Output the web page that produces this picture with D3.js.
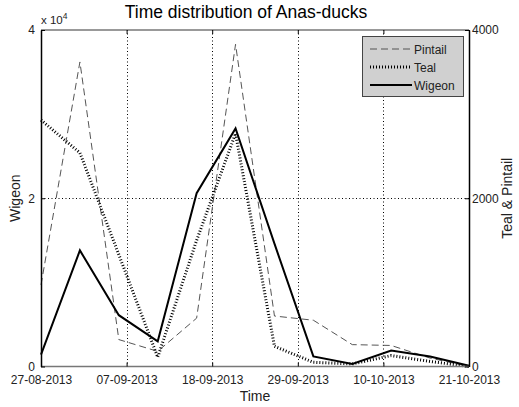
<!DOCTYPE html>
<html>
<head>
<meta charset="utf-8">
<script src="https://cdn.jsdelivr.net/npm/d3@7"></script>
<style>
  html, body { margin: 0; padding: 0; background: #fff; }
  svg { display: block; font-family: "Liberation Sans", Arial, sans-serif; }
</style>
</head>
<body>
<svg id="chart" width="519" height="407"></svg>
<script>
// Survey dates (every 5 days)
const dates = ["2013-08-27", "2013-09-01", "2013-09-06", "2013-09-11", "2013-09-16", "2013-09-21",
               "2013-09-26", "2013-10-01", "2013-10-06", "2013-10-11", "2013-10-16", "2013-10-21"];
// Counts per species
const wigeon  = [1400, 13800, 6100, 3000, 20600, 28300, 14600, 1200, 300, 1900, 1200, 100];
const teal    = [2930, 2540, 1330, 110, 1500, 2770, 240, 50, 30, 130, 60, 0];
const pintail = [970, 3620, 320, 180, 575, 3830, 600, 550, 260, 250, 100, 0];
// Axis ticks
const xTickDates = ["2013-08-27", "2013-09-07", "2013-09-18", "2013-09-29", "2013-10-10", "2013-10-21"];
const leftTicks  = [0, 20000, 40000];
const rightTicks = [0, 2000, 4000];

const parse = d3.timeParse("%Y-%m-%d");
const fmt = d3.timeFormat("%d-%m-%Y");
const days = dates.map(parse);

const svg = d3.select("#chart");
const L = 41, R = 469, T = 30, B = 366.5;

const x = d3.scaleTime().domain([parse("2013-08-27"), parse("2013-10-21")]).range([L, R]);
const yL = d3.scaleLinear().domain([0, 40000]).range([B, T]);
const yR = d3.scaleLinear().domain([0, 4000]).range([B, T]);

const textCol = "#222";
const font = "Liberation Sans, Arial, sans-serif";

// Grid (dotted)
const grid = svg.append("g").attr("stroke", "#000").attr("stroke-width", 1)
  .attr("stroke-dasharray", "1,2.5");
xTickDates.slice(1, -1).map(parse).forEach(d => {
  grid.append("line").attr("x1", Math.round(x(d)) + 0.5).attr("x2", Math.round(x(d)) + 0.5)
    .attr("y1", T).attr("y2", B);
});
grid.append("line").attr("x1", L).attr("x2", R)
  .attr("y1", Math.round(yL(20000)) + 0.5).attr("y2", Math.round(yL(20000)) + 0.5);

// Series
const lineL = d3.line().x((d, i) => x(days[i])).y(d => yL(d));
const lineR = d3.line().x((d, i) => x(days[i])).y(d => yR(d));

svg.append("path").datum(pintail).attr("d", lineR).attr("fill", "none")
  .attr("stroke", "#555").attr("stroke-width", 1).attr("stroke-dasharray", "7,4");
svg.append("path").datum(teal).attr("d", lineR).attr("fill", "none")
  .attr("stroke", "#000").attr("stroke-width", 3).attr("stroke-dasharray", "1,2");
svg.append("path").datum(wigeon).attr("d", lineL).attr("fill", "none")
  .attr("stroke", "#000").attr("stroke-width", 2).attr("stroke-linejoin", "miter");

// Axes frame
svg.append("line").attr("x1", L).attr("x2", R).attr("y1", T).attr("y2", T)
  .attr("stroke", "#777").attr("stroke-width", 1.5);
svg.append("line").attr("x1", L).attr("x2", R).attr("y1", B).attr("y2", B)
  .attr("stroke", "#777").attr("stroke-width", 1.5);

// Bottom axis
const xAxis = d3.axisBottom(x).tickValues(xTickDates.map(parse)).tickFormat(fmt)
  .tickSizeInner(-4).tickSizeOuter(0).tickPadding(9);
const gx = svg.append("g").attr("transform", `translate(0,${B})`).call(xAxis);
gx.select(".domain").remove();
gx.selectAll(".tick line").attr("stroke", "#000");
gx.selectAll("text").attr("fill", textCol).attr("font-size", 12).attr("font-family", font);

// Top ticks
svg.append("g").attr("transform", `translate(0,${T})`)
  .call(d3.axisTop(x).tickValues(xTickDates.map(parse)).tickFormat("").tickSizeInner(-4).tickSizeOuter(0))
  .call(g => g.select(".domain").remove())
  .selectAll(".tick line").attr("stroke", "#000");

// Left axis (scaled by 10^4)
const gl = svg.append("g").attr("transform", `translate(${L},0)`)
  .call(d3.axisLeft(yL).tickValues(leftTicks).tickFormat(d => d / 10000)
    .tickSizeInner(-4).tickSizeOuter(0).tickPadding(6));
gl.select(".domain").attr("stroke", "#000").attr("stroke-width", 1.5);
gl.selectAll(".tick line").attr("stroke", "#000");
gl.selectAll("text").attr("fill", textCol).attr("font-size", 12).attr("font-family", font);

// Right axis
const gr = svg.append("g").attr("transform", `translate(${R},0)`)
  .call(d3.axisRight(yR).tickValues(rightTicks).tickFormat(d3.format("d"))
    .tickSizeInner(-4).tickSizeOuter(0).tickPadding(3));
gr.select(".domain").attr("stroke", "#000").attr("stroke-width", 1.5);
gr.selectAll(".tick line").attr("stroke", "#000");
gr.selectAll("text").attr("fill", textCol).attr("font-size", 12).attr("font-family", font);

// Exponent label
const ex = svg.append("text").attr("x", L).attr("y", 24).attr("fill", textCol)
  .attr("font-size", 11.5);
ex.append("tspan").text("x 10");
ex.append("tspan").attr("dy", -5).attr("font-size", 8.5).text("4");

// Title
svg.append("text").attr("x", 246).attr("y", 18).attr("text-anchor", "middle")
  .attr("font-size", 17.5).attr("fill", "#000").text("Time distribution of Anas-ducks");

// Axis titles
svg.append("text").attr("x", 255).attr("y", 401).attr("text-anchor", "middle")
  .attr("font-size", 14).attr("fill", textCol).text("Time");
svg.append("text").attr("transform", `translate(20,${(T + B) / 2}) rotate(-90)`)
  .attr("text-anchor", "middle").attr("font-size", 14).attr("fill", textCol).text("Wigeon");
svg.append("text").attr("transform", `translate(512,${(T + B) / 2}) rotate(-90)`)
  .attr("text-anchor", "middle").attr("font-size", 14).attr("fill", textCol).text("Teal & Pintail");

// Legend
const leg = svg.append("g");
leg.append("rect").attr("x", 362.5).attr("y", 36.5).attr("width", 101).attr("height", 60)
  .attr("fill", "#d0d0d0").attr("stroke", "#444").attr("stroke-width", 1);
const items = [
  { name: "Pintail", stroke: "#555", width: 1, dash: "7,4" },
  { name: "Teal", stroke: "#000", width: 3, dash: "1,2" },
  { name: "Wigeon", stroke: "#000", width: 2, dash: null }
];
items.forEach((it, i) => {
  const yy = 49 + i * 18;
  leg.append("line").attr("x1", 370).attr("x2", 412).attr("y1", yy).attr("y2", yy)
    .attr("stroke", it.stroke).attr("stroke-width", it.width)
    .attr("stroke-dasharray", it.dash);
  leg.append("text").attr("x", 414).attr("y", yy + 4.5).attr("font-size", 12)
    .attr("fill", textCol).text(it.name);
});
</script>
</body>
</html>
